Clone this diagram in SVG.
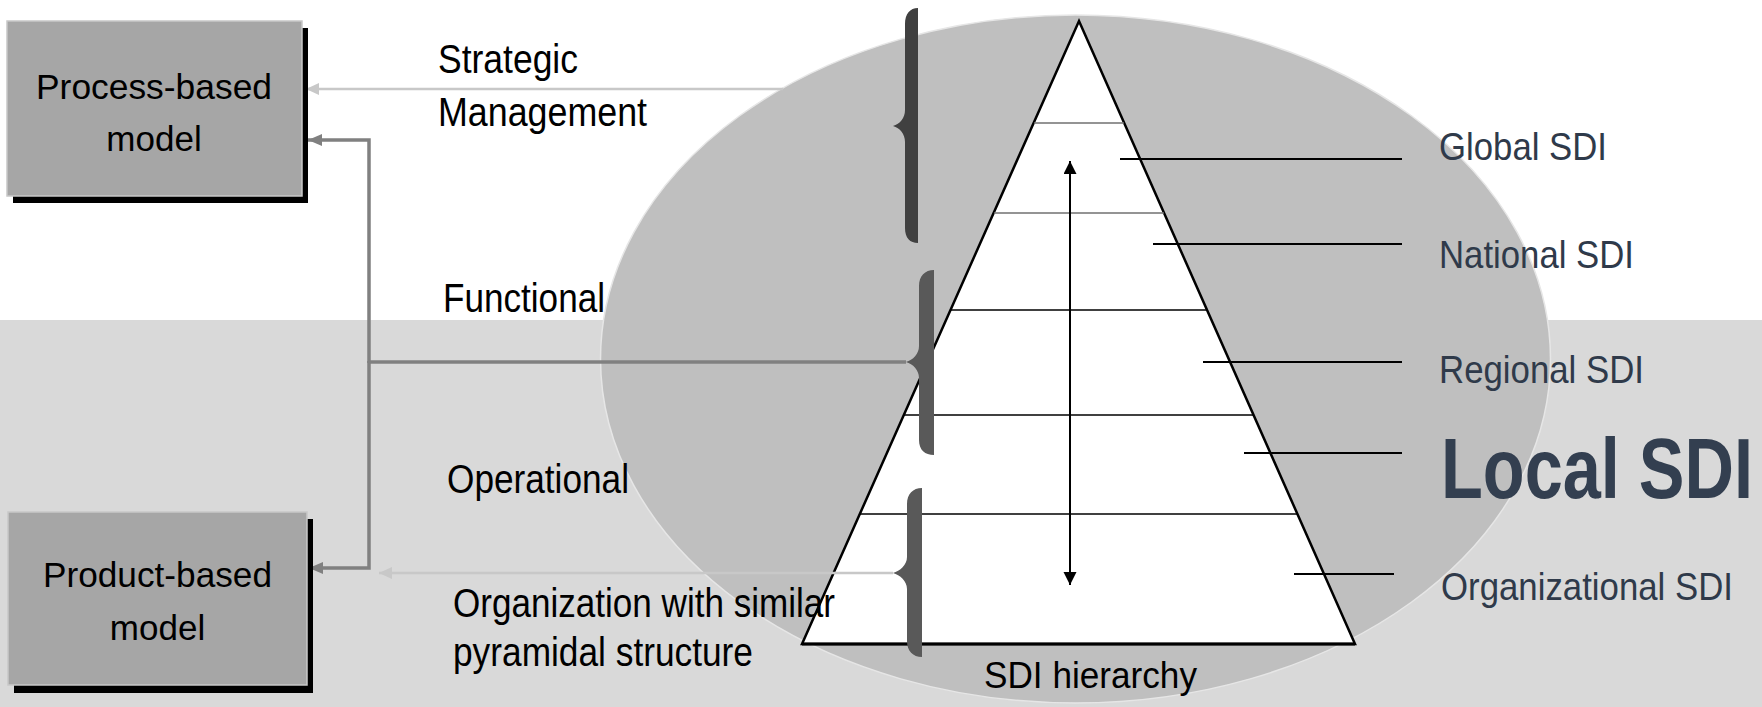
<svg xmlns="http://www.w3.org/2000/svg" width="1762" height="707" viewBox="0 0 1762 707">
<style>
.lbl{font-family:"Liberation Sans",Arial,sans-serif;fill:#000;}
.rl{font-family:"Liberation Sans",Arial,sans-serif;fill:#2f3a4a;}
.box{fill:#a6a6a6;stroke:#c8c8c8;stroke-width:1.5;}
.shadow{fill:#000;}
.tier{stroke:#000;stroke-width:1.5;}
.tierg{stroke:#707070;stroke-width:1.5;}
.lead{stroke:#000;stroke-width:2;}
.light{stroke:#c8c8c8;stroke-width:2.5;fill:none;}
.dark{stroke:#808080;stroke-width:3.5;fill:none;}
</style>
<defs>
<marker id="ahLight" markerUnits="userSpaceOnUse" markerWidth="14" markerHeight="12" refX="13" refY="6" orient="auto"><path d="M0,0 L13,6 L0,12 z" fill="#c8c8c8"/></marker>
<marker id="ahDark" markerUnits="userSpaceOnUse" markerWidth="15" markerHeight="12" refX="14" refY="6" orient="auto"><path d="M0,0 L14,6 L0,12 z" fill="#808080"/></marker>
<marker id="ahBlack" markerUnits="userSpaceOnUse" markerWidth="14" markerHeight="14" refX="13" refY="6.5" orient="auto-start-reverse"><path d="M0,0 L13,6.5 L0,13 z" fill="#000"/></marker>
</defs>

<rect x="0" y="0" width="1762" height="707" fill="#ffffff"/>
<rect x="0" y="320" width="1762" height="387" fill="#d9d9d9"/>

<g id="sdi-ellipse">
<ellipse cx="1075.5" cy="359" rx="475" ry="344" fill="#bfbfbf" stroke="#e6e6e6" stroke-width="1.5"/>
</g>

<g id="pyramid">
<polygon points="1079,21 1355,644 802,644" fill="#ffffff" stroke="#000" stroke-width="2.5" stroke-linejoin="miter"/>
<line class="tierg" x1="1034" y1="123" x2="1124" y2="123"/>
<line class="tierg" x1="994" y1="213" x2="1164" y2="213"/>
<line class="tier" x1="951" y1="310" x2="1207" y2="310"/>
<line class="tier" x1="904" y1="415" x2="1254" y2="415"/>
<line class="tier" x1="860" y1="514" x2="1298" y2="514"/>
<line x1="802" y1="644" x2="1355" y2="644" stroke="#000" stroke-width="3"/>
</g>

<g id="level-leaders">
<line class="lead" x1="1120" y1="159" x2="1402" y2="159"/>
<line class="lead" x1="1153" y1="244" x2="1402" y2="244"/>
<line class="lead" x1="1203" y1="362" x2="1402" y2="362"/>
<line class="lead" x1="1244" y1="453" x2="1402" y2="453"/>
<line class="lead" x1="1294" y1="574" x2="1394" y2="574"/>
</g>

<g id="hierarchy-arrow">
<line x1="1070" y1="585" x2="1070" y2="161" stroke="#000" stroke-width="2" marker-start="url(#ahBlack)" marker-end="url(#ahBlack)"/>
</g>

<g id="connectors">
<path class="light" d="M783,89 L306,89" marker-end="url(#ahLight)"/>
<path class="dark" d="M906,362 L369,362"/>
<path class="dark" d="M369,363 L369,140 L308,140" marker-end="url(#ahDark)"/>
<path class="dark" d="M369,361 L369,568 L309,568" marker-end="url(#ahDark)"/>
<path class="light" d="M893,573 L379,573" marker-end="url(#ahLight)"/>
</g>

<g id="brace-strategic">
<path d="M918,8 C910,8 905,14 905,24 L905,110 C905,118 900,124 893,126 C900,128 905,134 905,142 L905,228 C905,238 910,243 918,243 Z" fill="#404040"/>
</g>
<g id="brace-functional">
<path d="M934,270 C925,270 919,276 919,286 L919,346 C919,354 913,360 906,362 C913,364 919,370 919,378 L919,440 C919,450 925,455 934,455 Z" fill="#595959"/>
</g>
<g id="brace-operational">
<path d="M922,488 C913,488 907,494 907,504 L907,557 C907,565 900,571 893,573 C900,575 907,581 907,589 L907,641 C907,651 913,657 922,657 Z" fill="#595959"/>
</g>

<g id="process-based-model">
<rect class="shadow" x="13" y="28" width="295" height="175"/>
<rect class="box" x="7" y="21" width="295" height="175"/>
<text class="lbl" x="154" y="99" font-size="35" text-anchor="middle" textLength="236" lengthAdjust="spacingAndGlyphs">Process-based</text>
<text class="lbl" x="154" y="151" font-size="35" text-anchor="middle">model</text>
</g>

<g id="product-based-model">
<rect class="shadow" x="14" y="519" width="299" height="174"/>
<rect class="box" x="8" y="512" width="299" height="173"/>
<text class="lbl" x="157.5" y="587" font-size="35" text-anchor="middle" textLength="229" lengthAdjust="spacingAndGlyphs">Product-based</text>
<text class="lbl" x="157.5" y="640" font-size="35" text-anchor="middle">model</text>
</g>

<g id="management-labels">
<text class="lbl" x="438" y="73" font-size="40" textLength="140" lengthAdjust="spacingAndGlyphs">Strategic</text>
<text class="lbl" x="438" y="126" font-size="40" textLength="209" lengthAdjust="spacingAndGlyphs">Management</text>
<text class="lbl" x="443" y="312" font-size="40" textLength="162" lengthAdjust="spacingAndGlyphs">Functional</text>
<text class="lbl" x="447" y="493" font-size="40" textLength="182" lengthAdjust="spacingAndGlyphs">Operational</text>
<text class="lbl" x="453" y="617" font-size="40" textLength="382" lengthAdjust="spacingAndGlyphs">Organization with similar</text>
<text class="lbl" x="453" y="666" font-size="40" textLength="300" lengthAdjust="spacingAndGlyphs">pyramidal structure</text>
<text class="lbl" x="984" y="688" font-size="37" textLength="213" lengthAdjust="spacingAndGlyphs">SDI hierarchy</text>
</g>

<g id="sdi-levels">
<text class="rl" x="1439" y="160" font-size="39" textLength="168" lengthAdjust="spacingAndGlyphs">Global SDI</text>
<text class="rl" x="1439" y="268" font-size="39" textLength="195" lengthAdjust="spacingAndGlyphs">National SDI</text>
<text class="rl" x="1439" y="383" font-size="39" textLength="205" lengthAdjust="spacingAndGlyphs">Regional SDI</text>
<text class="rl" x="1441" y="498" font-size="85" font-weight="bold" fill="#333f50" style="fill:#333f50" textLength="312" lengthAdjust="spacingAndGlyphs">Local SDI</text>
<text class="rl" x="1441" y="600" font-size="39" textLength="292" lengthAdjust="spacingAndGlyphs">Organizational SDI</text>
</g>
</svg>
